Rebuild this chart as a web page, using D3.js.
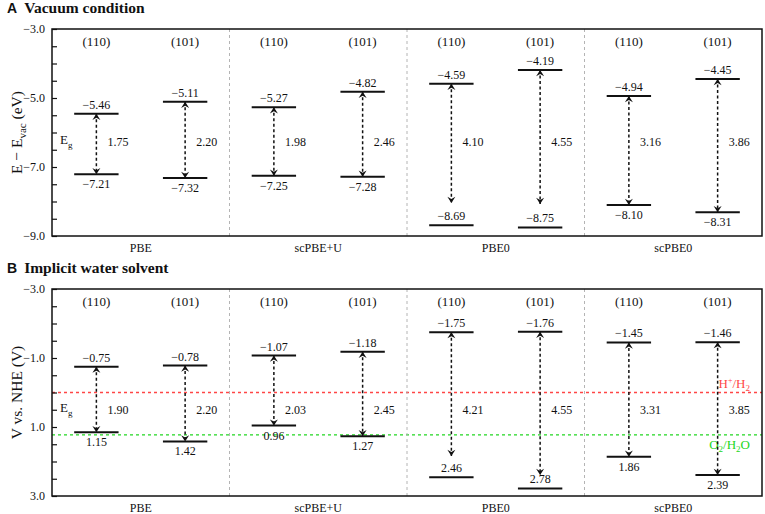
<!DOCTYPE html>
<html>
<head>
<meta charset="utf-8">
<script src="https://cdn.jsdelivr.net/npm/d3@7"></script>
<style>
body { margin: 0; background: #fff; }
text { font-family: "Liberation Serif", "Times New Roman", serif; fill: #111; }
</style>
</head>
<body>
<script>
// categories
var methods = ["PBE", "scPBE+U", "PBE0", "scPBE0"];
var facets = ["(110)", "(101)"];

// panel A, vacuum: band edges (eV) and gaps
var vacCBM = [-5.46, -5.11, -5.27, -4.82, -4.59, -4.19, -4.94, -4.45];
var vacVBM = [-7.21, -7.32, -7.25, -7.28, -8.69, -8.75, -8.10, -8.31];
var vacGap = [1.75, 2.20, 1.98, 2.46, 4.10, 4.55, 3.16, 3.86];
var vacArrowEnd = [-7.21, -7.32, -7.25, -7.28, -8.04, -8.07, -8.10, -8.31];
var vacTicks = [-3, -3.5, -4, -4.5, -5, -5.5, -6, -6.5, -7, -7.5, -8, -8.5, -9];
var vacTickLabels = [-3, -5, -7, -9];

// panel B, implicit water: band edges (V vs NHE) and gaps
var solCBM = [-0.75, -0.78, -1.07, -1.18, -1.75, -1.76, -1.45, -1.46];
var solVBM = [1.15, 1.42, 0.96, 1.27, 2.46, 2.78, 1.86, 2.39];
var solGap = [1.90, 2.20, 2.03, 2.45, 4.21, 4.55, 3.31, 3.85];
var solArrowEnd = [1.15, 1.42, 0.96, 1.27, 1.84, 2.39, 1.86, 2.39];
var solTicks = [-3, -2.5, -2, -1.5, -1, -0.5, 0, 0.5, 1, 1.5, 2, 2.5, 3];
var solTickLabels = [-3, -1, 1, 3];

// redox potentials
var redoxNames = ["H+/H2", "O2/H2O"];
var redoxValues = [0.0, 1.23];

var width = 765, height = 514;
var plotLeft = 52, plotRight = 762;

var svg = d3.select("body").append("svg")
    .attr("width", width)
    .attr("height", height);

var defs = svg.append("defs");
defs.append("marker")
    .attr("id", "head")
    .attr("viewBox", "-7 -5 8 10")
    .attr("refX", 0)
    .attr("refY", 0)
    .attr("markerUnits", "userSpaceOnUse")
    .attr("markerWidth", 8)
    .attr("markerHeight", 10)
    .attr("orient", "auto-start-reverse")
  .append("path")
    .attr("d", "M0,0 L-6.2,-4 L-4,0 L-6.2,4 Z")
    .attr("fill", "#111");

var slots = [];
methods.forEach(function(m) {
    facets.forEach(function(f) { slots.push(m + " " + f); });
});

var xSlot = d3.scaleBand().domain(slots).range([plotLeft, plotRight]);
var xGroup = d3.scaleBand().domain(methods).range([plotLeft, plotRight]);
var fmt2 = d3.format(".2f");
var fmt1 = d3.format(".1f");

function drawPanel(p) {
    var y = d3.scaleLinear().domain([-3, p.bottomValue]).range([p.top, p.bottom]);
    var g = svg.append("g");
    var bw = xSlot.bandwidth();

    // title
    var title = g.append("text").attr("x", 7).attr("y", p.top - 16);
    title.append("tspan")
        .style("font-family", "'Liberation Sans', Arial, sans-serif")
        .style("font-weight", "bold")
        .style("font-size", "14px")
        .text(p.letter);
    title.append("tspan")
        .attr("dx", 7)
        .style("font-weight", "bold")
        .style("font-size", "15.5px")
        .text(p.title);

    // redox reference lines
    if (p.redox) {
        var colors = ["#ff4646", "#22d622"];
        redoxValues.forEach(function(v, i) {
            g.append("line")
                .attr("x1", plotLeft).attr("x2", plotRight)
                .attr("y1", y(v)).attr("y2", y(v))
                .attr("stroke", colors[i])
                .attr("stroke-width", 1.3)
                .attr("stroke-dasharray", "3,3");
        });
        var h = g.append("text")
            .attr("x", 750).attr("y", y(redoxValues[0]) - 5)
            .attr("text-anchor", "end")
            .style("font-size", "13px");
        h.append("tspan").style("fill", colors[0]).text("H");
        h.append("tspan").style("fill", colors[0]).attr("dy", -5).style("font-size", "8px").text("+");
        h.append("tspan").style("fill", colors[0]).attr("dy", 5).text("/H");
        h.append("tspan").style("fill", colors[0]).attr("dy", 3).style("font-size", "9px").text("2");
        var o = g.append("text")
            .attr("x", 750).attr("y", y(redoxValues[1]) + 14)
            .attr("text-anchor", "end")
            .style("font-size", "13px");
        o.append("tspan").style("fill", colors[1]).text("O");
        o.append("tspan").style("fill", colors[1]).attr("dy", 3).style("font-size", "9px").text("2");
        o.append("tspan").style("fill", colors[1]).attr("dy", -3).text("/H");
        o.append("tspan").style("fill", colors[1]).attr("dy", 3).style("font-size", "9px").text("2");
        o.append("tspan").style("fill", colors[1]).attr("dy", -3).text("O");
    }

    // method separators
    g.selectAll(".sep")
        .data(methods.slice(1))
        .enter().append("line")
        .attr("x1", function(d) { return xGroup(d); })
        .attr("x2", function(d) { return xGroup(d); })
        .attr("y1", p.top).attr("y2", p.bottom)
        .attr("stroke", "#b4b4b4")
        .attr("stroke-width", 1)
        .attr("stroke-dasharray", "3,3");

    // facet labels
    g.selectAll(".facet")
        .data(slots)
        .enter().append("text")
        .attr("x", function(d) { return xSlot(d) + bw / 2; })
        .attr("y", p.top + 17)
        .attr("text-anchor", "middle")
        .style("font-size", "13px")
        .text(function(d, i) { return facets[i % 2]; });

    // method labels below axis
    g.selectAll(".method")
        .data(methods)
        .enter().append("text")
        .attr("x", function(d) { return xGroup(d) + xGroup.bandwidth() / 2; })
        .attr("y", p.bottom + 16)
        .attr("text-anchor", "middle")
        .style("font-size", "12px")
        .text(function(d) { return d; });

    slots.forEach(function(s, i) {
        var cx = xSlot(s) + bw / 2;
        var yc = y(p.cbm[i]), yv = y(p.vbm[i]);

        [yc, yv].forEach(function(yy) {
            g.append("line")
                .attr("x1", cx - bw / 4).attr("x2", cx + bw / 4)
                .attr("y1", yy).attr("y2", yy)
                .attr("stroke", "#111")
                .attr("stroke-width", 2);
        });

        g.append("line")
            .attr("x1", cx).attr("x2", cx)
            .attr("y1", yc).attr("y2", y(p.arrowEnd[i]))
            .attr("stroke", "#111")
            .attr("stroke-width", 1.5)
            .attr("stroke-dasharray", "3,2.5")
            .attr("marker-start", "url(#head)")
            .attr("marker-end", "url(#head)");

        g.append("text")
            .attr("x", cx).attr("y", yc - 5)
            .attr("text-anchor", "middle")
            .style("font-size", "12px")
            .text(fmt2(p.cbm[i]));

        var below = p.arrowEnd[i] === p.vbm[i];
        g.append("text")
            .attr("x", cx).attr("y", below ? yv + 14 : yv - 5)
            .attr("text-anchor", "middle")
            .style("font-size", "12px")
            .text(fmt2(p.vbm[i]));

        g.append("text")
            .attr("x", cx + 11).attr("y", y(p.gapAt) + 4.5)
            .style("font-size", "12px")
            .text(fmt2(p.gap[i]));
    });

    var eg = g.append("text")
        .attr("x", 60).attr("y", y(p.gapAt) + 2)
        .style("font-size", "13px");
    eg.append("tspan").text("E");
    eg.append("tspan").attr("dy", 4).style("font-size", "9px").text("g");

    // frame
    g.append("rect")
        .attr("x", plotLeft).attr("y", p.top)
        .attr("width", plotRight - plotLeft).attr("height", p.bottom - p.top)
        .attr("fill", "none")
        .attr("stroke", "#111")
        .attr("stroke-width", 1.5);

    // y axis
    var axis = d3.axisLeft(y)
        .tickValues(p.ticks)
        .tickSize(-5)
        .tickPadding(7)
        .tickFormat(function(d) { return p.tickLabels.indexOf(d) >= 0 ? fmt1(d) : ""; });
    var ax = g.append("g")
        .attr("transform", "translate(" + plotLeft + ",0)")
        .call(axis);
    ax.select(".domain").remove();
    ax.selectAll(".tick line").attr("stroke", "#111").attr("stroke-width", 1.2);
    ax.selectAll(".tick text")
        .style("font-family", "'Liberation Serif', 'Times New Roman', serif")
        .style("font-size", "12px")
        .attr("fill", "#111");

    // y label
    var yl = g.append("text")
        .attr("transform", "translate(22," + ((p.top + p.bottom) / 2) + ") rotate(-90)")
        .attr("text-anchor", "middle")
        .style("font-size", "15.5px");
    p.yLabel(yl);
}

drawPanel({
    letter: "A", title: "Vacuum condition",
    top: 29, bottom: 236, bottomValue: -9,
    cbm: vacCBM, vbm: vacVBM, gap: vacGap, arrowEnd: vacArrowEnd,
    ticks: vacTicks, tickLabels: vacTickLabels,
    gapAt: -6.27, redox: false,
    yLabel: function(t) {
        t.append("tspan").text("E \u2212 E");
        t.append("tspan").attr("dy", 4).style("font-size", "11px").text("vac");
        t.append("tspan").attr("dy", -4).text(" (eV)");
    }
});

drawPanel({
    letter: "B", title: "Implicit water solvent",
    top: 289, bottom: 496, bottomValue: 3,
    cbm: solCBM, vbm: solVBM, gap: solGap, arrowEnd: solArrowEnd,
    ticks: solTicks, tickLabels: solTickLabels,
    gapAt: 0.5, redox: true,
    yLabel: function(t) {
        t.append("tspan").text("V vs. NHE (V)");
    }
});
</script>
</body>
</html>
